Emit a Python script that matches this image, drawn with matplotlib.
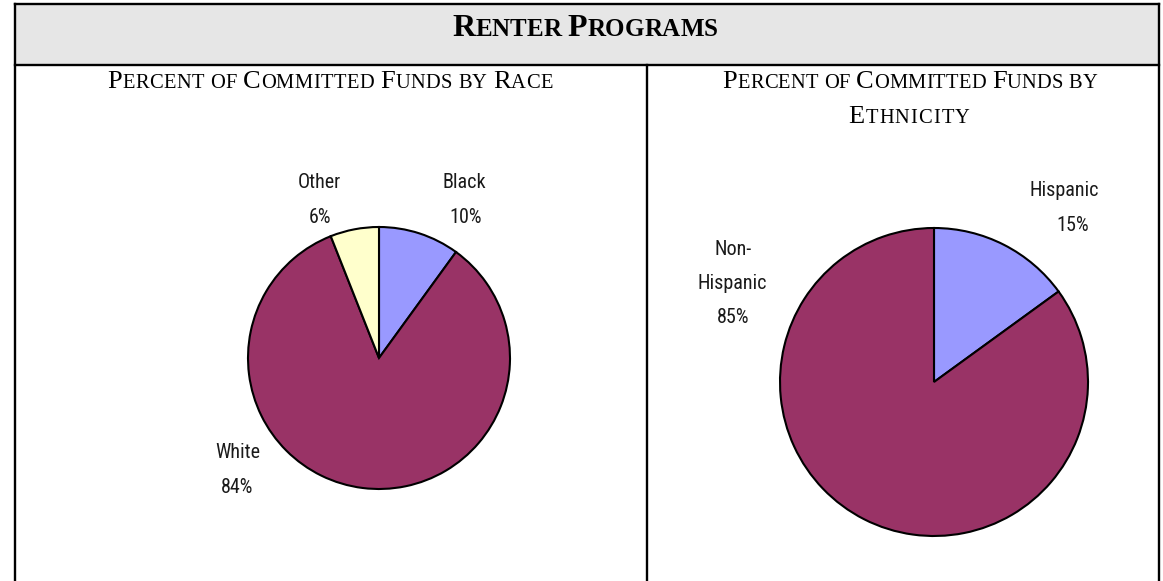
import matplotlib
matplotlib.use("Agg")
import matplotlib.pyplot as plt
from matplotlib import font_manager as fm
from matplotlib.font_manager import FontProperties

# ---------------- data ----------------
race_labels = ["Black", "White", "Other"]
race_values = [10, 84, 6]
eth_labels = ["Hispanic", "Non-Hispanic"]
eth_values = [15, 85]

header_title = "Renter Programs"
race_title = "Percent of Committed Funds by Race"
eth_title_lines = ["Percent of Committed Funds by", "Ethnicity"]

# ---------------- styles ----------------
W, H = 1163, 581
C_BLUE = "#9999FF"
C_PLUM = "#993366"
C_CREAM = "#FFFFCC"
HEADER_BG = "#E6E6E6"


def pick_family(cands):
    for c in cands:
        try:
            fm.findfont(FontProperties(family=c), fallback_to_default=False)
            return c
        except Exception:
            continue
    return "DejaVu Sans"


SERIF = pick_family(["Liberation Serif", "DejaVu Serif"])
NARROW = pick_family(["Liberation Sans Narrow", "Arial Narrow", "Roboto Condensed",
                      "DejaVu Sans Condensed", "Liberation Sans"])

fig = plt.figure(figsize=(W / 100, H / 100), dpi=100)
ax = fig.add_axes([0, 0, 1, 1])
ax.set_axis_off()


def set_limits():
    ax.set_xlim(0, W)
    ax.set_ylim(H, 0)
    ax.set_aspect("equal")


set_limits()

# ---------------- table frame ----------------
ax.fill_between([15, 1159], 4, 64, color=HEADER_BG, zorder=0, linewidth=0)
lw = 1.7
ax.plot([15, 1159], [4, 4], color="black", lw=lw, solid_capstyle="projecting")
ax.plot([15, 1159], [64.5, 64.5], color="black", lw=lw)
ax.plot([15, 15], [4, H + 5], color="black", lw=lw, solid_capstyle="projecting")
ax.plot([1158.5, 1158.5], [4, H + 5], color="black", lw=lw, solid_capstyle="projecting")
ax.plot([647, 647], [64.5, H + 5], color="black", lw=lw)

renderer = fig.canvas.get_renderer()


def seg_width(s, prop):
    w1, _, _ = renderer.get_text_width_height_descent("|" + s + "|", prop, ismath=False)
    w2, _, _ = renderer.get_text_width_height_descent("||", prop, ismath=False)
    return w1 - w2


def smallcaps(xc, y, text, big, small, weight="normal", target_width=None):
    # build a list of single characters with their sizes (small-caps style)
    chars = []
    for ch in text:
        if ch == " ":
            chars.append((" ", small))
        elif ch.isupper():
            chars.append((ch, big))
        else:
            chars.append((ch.upper(), small))
    widths = []
    for s, sz in chars:
        prop = FontProperties(family=SERIF, size=sz, weight=weight)
        widths.append(seg_width(s, prop))
    natural = sum(widths)
    extra = 0.0
    if target_width is not None and len(chars) > 1:
        extra = (target_width - natural) / (len(chars) - 1)
    total = natural + extra * (len(chars) - 1)
    x = xc - total / 2.0
    for (s, sz), w in zip(chars, widths):
        if s.strip():
            ax.text(x, y, s, family=SERIF, size=sz, weight=weight,
                    ha="left", va="baseline", color="black")
        x += w + extra


# header
smallcaps(585, 36, header_title, 23, 18, weight="bold")
# sub titles
smallcaps(330, 88, race_title, 19, 14.8, target_width=445)
smallcaps(910, 88, eth_title_lines[0], 19, 14.8, target_width=375)
smallcaps(909, 123, eth_title_lines[1], 19, 14.8, target_width=121)

# ---------------- pies ----------------
wedge_kw = dict(edgecolor="black", linewidth=1.5)
ax.pie(race_values, colors=[C_BLUE, C_PLUM, C_CREAM], startangle=-90,
       counterclock=True, center=(379, 358), radius=131, wedgeprops=wedge_kw,
       frame=True)
ax.pie(eth_values, colors=[C_BLUE, C_PLUM], startangle=-90,
       counterclock=True, center=(934, 382), radius=154, wedgeprops=wedge_kw,
       frame=True)
set_limits()
ax.set_axis_off()

# ---------------- labels ----------------
LBL = dict(family=[NARROW, "DejaVu Sans"], size=14.5, color="#1a1a1a",
           ha="center", va="baseline")


def pct(v):
    return f"{v}%"


# race labels: Black, White, Other
ax.text(464, 188, race_labels[0], **LBL)
ax.text(466, 223, pct(race_values[0]), **LBL)
ax.text(238, 458, race_labels[1], **LBL)
ax.text(237, 493, pct(race_values[1]), **LBL)
ax.text(319, 188, race_labels[2], **LBL)
ax.text(320, 223, pct(race_values[2]), **LBL)

# ethnicity labels
ax.text(1064, 196, eth_labels[0], **LBL)
ax.text(1073, 231, pct(eth_values[0]), **LBL)
nh1, nh2 = eth_labels[1].split("-")
ax.text(733, 255, nh1 + "-", **LBL)
ax.text(732, 289, nh2, **LBL)
ax.text(733, 323, pct(eth_values[1]), **LBL)

fig.savefig("out.png", dpi=100)
